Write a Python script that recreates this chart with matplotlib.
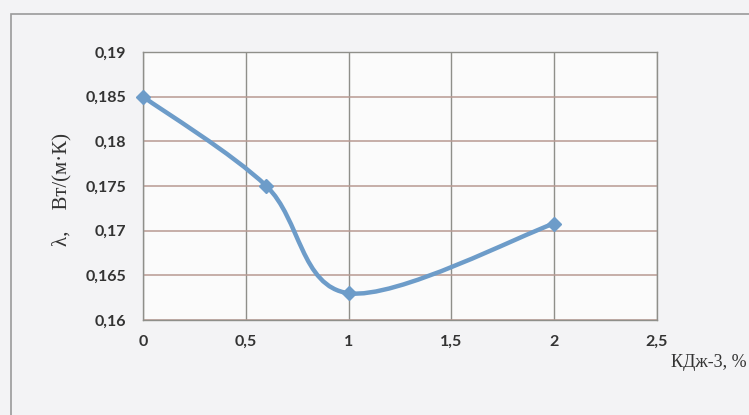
import matplotlib.pyplot as plt
from matplotlib.path import Path
from matplotlib.patches import PathPatch, Rectangle

# data
kdzh = [0, 0.6, 1, 2]
lam = [0.185, 0.175, 0.163, 0.1708]

x_ticks = [0, 0.5, 1, 1.5, 2, 2.5]
x_labels = ['0', '0,5', '1', '1,5', '2', '2,5']
y_ticks = [0.16, 0.165, 0.17, 0.175, 0.18, 0.185, 0.19]
y_labels = ['0,16', '0,165', '0,17', '0,175', '0,18', '0,185', '0,19']

line_col = '#6d9cc9'

fig = plt.figure(figsize=(7.49, 4.15), dpi=100, facecolor='#f3f3f5')
ax = fig.add_axes([143 / 749, 1 - 320 / 415, 514 / 749, 268 / 415])
ax.set_facecolor('#fbfbfb')

# outer frame of the scanned figure
fig.patches.append(Rectangle((11 / 749, -0.05), 1.2, 1 - 14 / 415 + 0.05,
                             transform=fig.transFigure, fill=False,
                             edgecolor='#9a9a9a', linewidth=1.2))

ax.set_xlim(0, 2.5)
ax.set_ylim(0.16, 0.19)
ax.set_xticks(x_ticks)
ax.set_xticklabels(x_labels)
ax.set_yticks(y_ticks)
ax.set_yticklabels(y_labels)
ax.tick_params(length=0, labelsize=11.5, colors='#333333')
ax.tick_params(axis='x', pad=11)
ax.tick_params(axis='y', pad=12)
for lab in ax.get_xticklabels() + ax.get_yticklabels():
    lab.set_family('Lato')
    lab.set_fontweight('bold')

ax.grid(axis='y', color='#b89a92', linewidth=1.1)
ax.grid(axis='x', color='#8f8f8a', linewidth=1.0)
for s in ax.spines.values():
    s.set_color('#8f8f8a')
    s.set_linewidth(1.0)
ax.set_axisbelow(True)

# smoothed line (Excel-like Bezier through the points)
pts = list(zip(kdzh, lam))
verts = [pts[0]]
codes = [Path.MOVETO]
for i in range(len(pts) - 1):
    p0 = pts[i - 1] if i > 0 else pts[i]
    p1 = pts[i]
    p2 = pts[i + 1]
    p3 = pts[i + 2] if i + 2 < len(pts) else pts[i + 1]
    c1 = (p1[0] + (p2[0] - p0[0]) / 6, p1[1] + (p2[1] - p0[1]) / 6)
    c2 = (p2[0] - (p3[0] - p1[0]) / 6, p2[1] - (p3[1] - p1[1]) / 6)
    verts += [c1, c2, p2]
    codes += [Path.CURVE4] * 3
ax.add_patch(PathPatch(Path(verts, codes), fill=False, edgecolor=line_col,
                       linewidth=3.2, capstyle='round', zorder=3))
ax.plot(kdzh, lam, linestyle='none', marker='D', markersize=7,
        color=line_col, zorder=4, clip_on=False)

fig.text(62 / 749, 1 - 190 / 415, 'λ,    Вт/(м·К)', rotation=90,
         ha='center', va='center', fontsize=15, family='Liberation Serif',
         color='#333333')
fig.text(747 / 749, 1 - 362 / 415, 'КДж-3, %', ha='right', va='center',
         fontsize=13, family='Liberation Serif', color='#333333')

fig.savefig('out.png', dpi=100, facecolor=fig.get_facecolor())
